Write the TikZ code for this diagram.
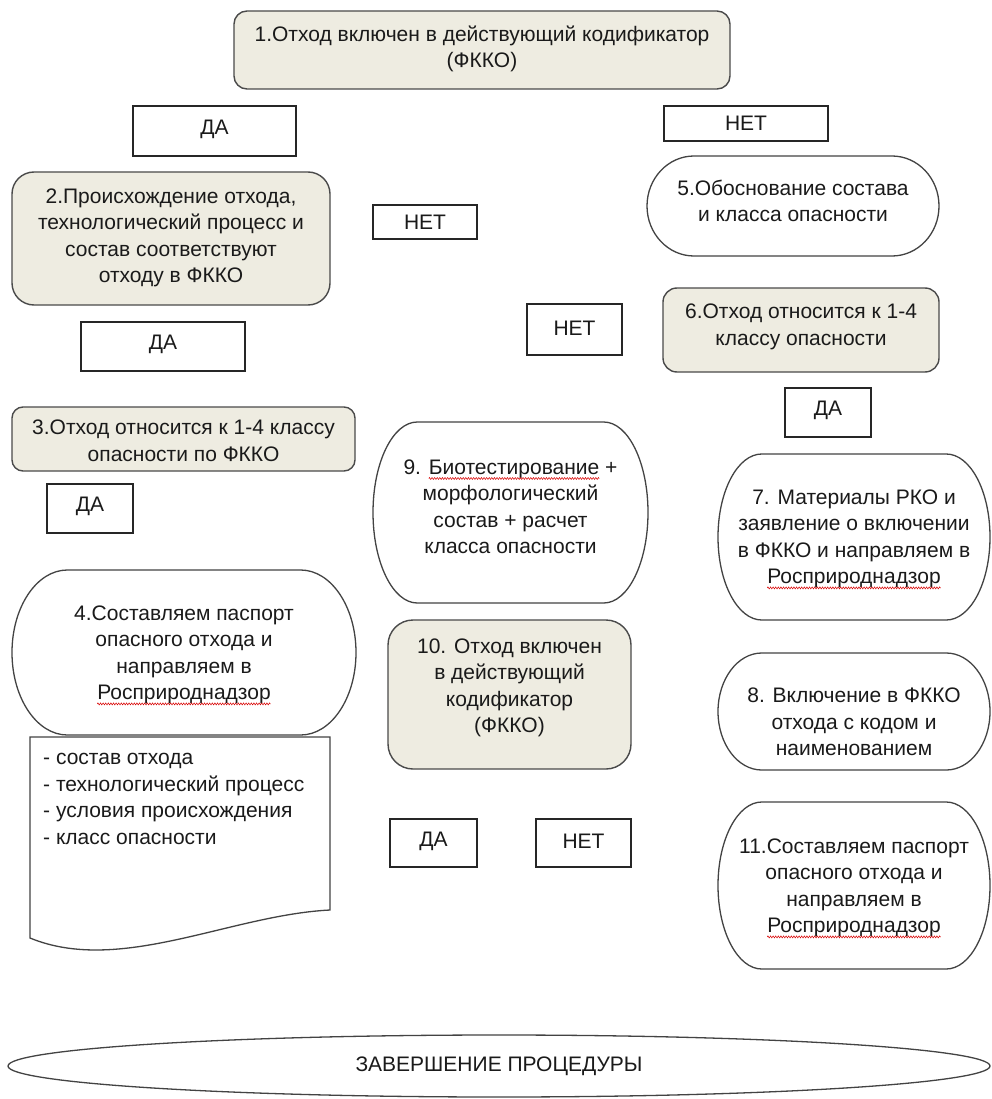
\documentclass[tikz,border=0pt]{standalone}
\usepackage{fontspec}
\setmainfont{Liberation Sans}
\usetikzlibrary{calc,decorations.pathmorphing}
\definecolor{boxgray}{HTML}{EEECE1}
\definecolor{edgegray}{HTML}{4A4A4A}
\definecolor{txt}{HTML}{1A1A1A}
\newcommand\sqw[1]{\tikz[baseline=(sqwd.base)]{\node[inner sep=0pt, outer sep=0pt] (sqwd) {#1};
  \draw[overlay, red!85!black, line width=0.5pt, decorate, decoration={zigzag, amplitude=1pt, segment length=2.6pt}]
    ($(sqwd.base west)+(0pt,-4pt)$) -- ($(sqwd.base east)+(0pt,-4pt)$);}}
\newcommand\termshape[4]{%
  \pgfmathsetmacro\tw{#3-#1}%
  \pgfmathsetmacro\rx{0.161*\tw}%
  \pgfmathsetmacro\ry{(#4-#2)/2}%
  \pgfmathsetmacro\kx{0.5523*\rx}%
  \pgfmathsetmacro\ky{0.5523*\ry}%
  \draw[termbox] (#1+\rx,#2) -- (#3-\rx,#2)
    .. controls (#3-\rx+\kx,#2) and (#3,#2+\ry-\ky) .. (#3,#2+\ry)
    .. controls (#3,#2+\ry+\ky) and (#3-\rx+\kx,#4) .. (#3-\rx,#4)
    -- (#1+\rx,#4)
    .. controls (#1+\rx-\kx,#4) and (#1,#2+\ry+\ky) .. (#1,#2+\ry)
    .. controls (#1,#2+\ry-\ky) and (#1+\rx-\kx,#2) .. cycle;}
\tikzset{
  graybox/.style={draw=edgegray, fill=boxgray, line width=1.4pt},
  termbox/.style={draw=edgegray!90!black, fill=white, line width=1.3pt},
  answerbox/.style={draw=black!85, fill=white, line width=1.4pt},
  lbl/.style={inner sep=0pt, align=center, text=txt, font=\fontsize{21}{26.5}\selectfont}
}
\begin{document}
\begin{tikzpicture}[x=1pt,y=-1pt]
\useasboundingbox[fill=white] (0,0) rectangle (992,1099);
% grey decision boxes
\draw[graybox, rounded corners=13pt] (234,11) rectangle (730,89);
\draw[graybox, rounded corners=22pt] (12,172) rectangle (330,305);
\draw[graybox, rounded corners=11pt] (12,407) rectangle (355,471);
\draw[graybox, rounded corners=14pt] (663,288) rectangle (939,372);
\draw[graybox, rounded corners=25pt] (388,620) rectangle (631,769);
% answer boxes
\draw[answerbox] (133,106) rectangle (296,156);
\draw[answerbox] (664,106) rectangle (828,141);
\draw[answerbox] (373,205) rectangle (477,239);
\draw[answerbox] (527,304) rectangle (622,355);
\draw[answerbox] (81,322) rectangle (245,371);
\draw[answerbox] (785,388) rectangle (871,437);
\draw[answerbox] (47,484) rectangle (133,533);
\draw[answerbox] (390,819) rectangle (477,867);
\draw[answerbox] (536,819) rectangle (631,867);
% document shape
\draw[termbox] (30,737) -- (330,737) -- (330,910)
  .. controls (230,915) and (120,975) .. (30,938) -- cycle;
% terminator-like boxes
\termshape{12}{570}{356}{735}
\termshape{647}{156}{939}{256}
\termshape{718}{454}{990}{620}
\termshape{718}{653}{990}{770}
\termshape{373}{422}{648}{603}
\termshape{718}{802}{990}{969}
% final ellipse
\draw[termbox] (499,1066) ellipse [x radius=491, y radius=31];
% texts
\node[lbl] (t1) at (482,49) {1.Отход включен в действующий кодификатор\\(ФККО)};
\node[lbl] (a1) at (214.5,129) {ДА};
\node[lbl] (a2) at (746,123) {НЕТ};
\node[lbl] (t2) at (171,238) {2.Происхождение отхода,\\технологический процесс и\\состав соответствуют\\отходу в ФККО};
\node[lbl] (a3) at (425,222) {НЕТ};
\node[lbl] (t5) at (793,201) {5.Обоснование состава\\и класса опасности};
\node[lbl] (a4) at (574.5,328) {НЕТ};
\node[lbl] (t6) at (801,327) {6.Отход относится к 1-4\\классу опасности};
\node[lbl] (a5) at (163,344) {ДА};
\node[lbl] (a6) at (828,410) {ДА};
\node[lbl] (t3) at (183.5,441) {3.Отход относится к 1-4 классу\\опасности по ФККО};
\node[lbl] (t9) at (510.5,507) {9. \sqw{Биотестирование} +\\морфологический\\состав + расчет\\класса опасности};
\node[lbl] (a7) at (90,506) {ДА};
\node[lbl] (t7) at (854,539) {7. Материалы РКО и\\заявление о включении\\в ФККО и направляем в\\\sqw{Росприроднадзор}};
\node[lbl] (t4) at (184,655) {4.Составляем паспорт\\опасного отхода и\\направляем в\\\sqw{Росприроднадзор}};
\node[lbl] (t10) at (509.5,688) {10. Отход включен\\в действующий\\кодификатор\\(ФККО)};
\node[lbl] (t8) at (854,722) {8. Включение в ФККО\\отхода с кодом и\\наименованием};
\node[lbl, anchor=west, align=left] (td) at (43,799) {- состав отхода\\- технологический процесс\\- условия происхождения\\- класс опасности};
\node[lbl] (a8) at (433.5,841) {ДА};
\node[lbl] (a9) at (583.5,841) {НЕТ};
\node[lbl] (t11) at (854,888) {11.Составляем паспорт\\опасного отхода и\\направляем в\\\sqw{Росприроднадзор}};
\node[lbl] (te) at (499,1066) {ЗАВЕРШЕНИЕ ПРОЦЕДУРЫ};
\end{tikzpicture}
\end{document}
